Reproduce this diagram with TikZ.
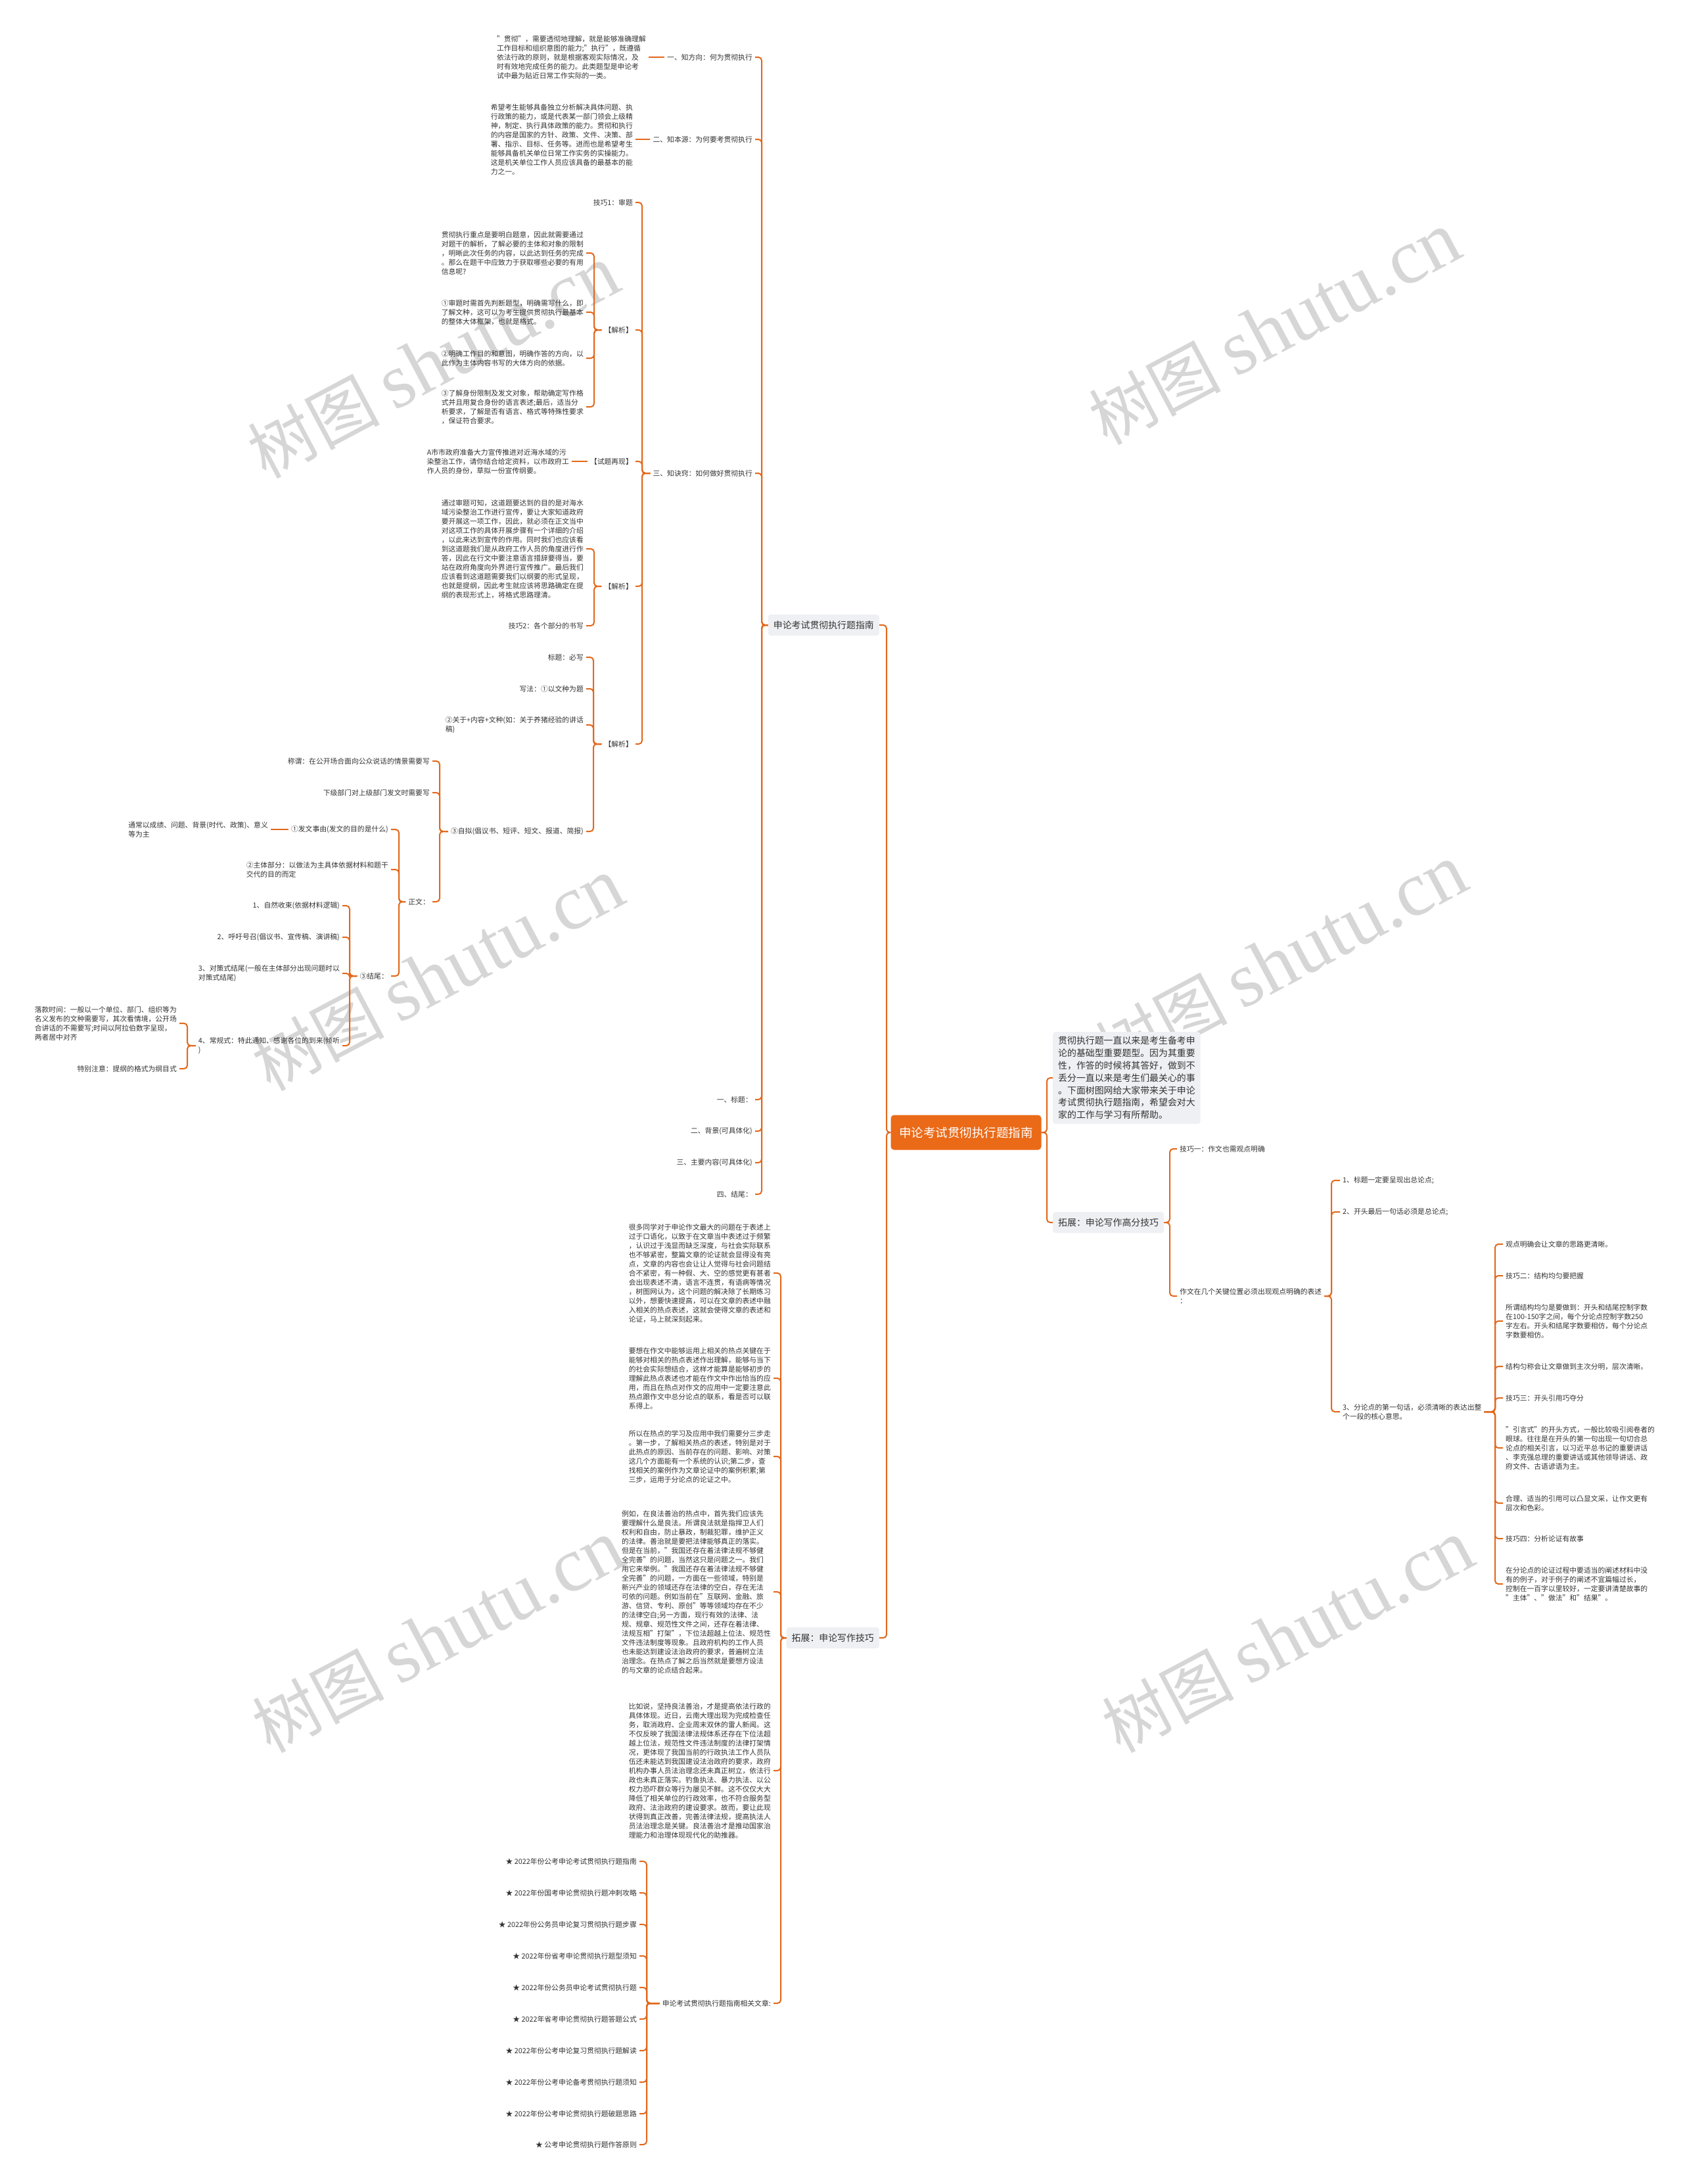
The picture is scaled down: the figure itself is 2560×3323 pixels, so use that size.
\documentclass[tikz,border=0pt]{standalone}
\usepackage{fontspec}
\setmainfont{Noto Sans CJK SC}
\newfontfamily\wmserif{Liberation Serif}
\definecolor{lc}{HTML}{E2681C}
\definecolor{oc}{HTML}{EA6A18}
\definecolor{tc}{HTML}{333333}
\definecolor{gb}{HTML}{EEF0F3}
\definecolor{wmc}{HTML}{D6D6D6}
\tikzset{
  conn/.style={draw=lc, line width=2pt, rounded corners=5pt},
  tx/.style={font=\fontsize{10.8}{14}\selectfont, text=tc, inner xsep=4pt, inner ysep=2pt, align=left},
  gbox/.style={fill=gb, rounded corners=4pt, text=tc, font=\fontsize{13.9}{18.8}\selectfont, inner xsep=8pt, inner ysep=7pt, minimum height=32pt, align=left},
  rootbox/.style={fill=oc, rounded corners=5pt, text=white, font=\fontsize{18.5}{22}\selectfont, minimum width=229pt, minimum height=53pt},
  wm/.style={text=wmc, rotate=28, inner sep=0pt},
}
\newcommand{\wmtext}{{\fontsize{100}{100}\selectfont 树图}\hspace{22pt}{\wmserif\fontsize{118}{118}\selectfont shutu.cn}}
\begin{document}
\begin{tikzpicture}[x=1pt,y=-1pt]
\useasboundingbox (0,0) rectangle (2560,3323);
\fill[white] (0,0) rectangle (2560,3323);
% watermarks
\node[wm] (w1) at (660,551) {\wmtext};
\node[wm] (w2) at (1940,500) {\wmtext};
\node[wm] (w3) at (667,1483) {\wmtext};
\node[wm] (w4) at (1950,1462) {\wmtext};
\node[wm] (w5) at (667,2490) {\wmtext};
\node[wm] (w6) at (1960,2490) {\wmtext};

% root
\node[rootbox] (root) at (1470,1723) {申论考试贯彻执行题指南};

% ---------- right side ----------
\coordinate (Rb) at (1593,1723);
\node[gbox, anchor=west] (C) at (1602,1640) {贯彻执行题一直以来是考生备考申\\论的基础型重要题型。因为其重要\\性，作答的时候将其答好，做到不\\丢分一直以来是考生们最关心的事\\。下面树图网给大家带来关于申论\\考试贯彻执行题指南，希望会对大\\家的工作与学习有所帮助。};
\node[gbox, anchor=west] (D) at (1602,1860) {拓展：申论写作高分技巧};
\foreach \c in {C,D} \draw[conn] (root.east) -- (Rb) |- (\c.west);

\coordinate (Db) at (1780,1860);
\node[tx, anchor=west] (d1) at (1791,1748) {技巧一：作文也需观点明确};
\node[tx, anchor=west] (d2) at (1791,1972) {作文在几个关键位置必须出现观点明确的表述\\：};
\foreach \c in {d1,d2} \draw[conn] (D.east) -- (Db) |- (\c.west);

\coordinate (D2b) at (2026,1972);
\node[tx, anchor=west] (d2a) at (2039,1796) {1、标题一定要呈现出总论点;};
\node[tx, anchor=west] (d2b) at (2039,1844) {2、开头最后一句话必须是总论点;};
\node[tx, anchor=west] (d2c) at (2039,2148) {3、分论点的第一句话，必须清晰的表达出整\\个一段的核心意思。};
\foreach \c in {d2a,d2b,d2c} \draw[conn] (d2.east) -- (D2b) |- (\c.west);

\coordinate (D3b) at (2275,2148);
\node[tx, anchor=west] (r1) at (2287,1893) {观点明确会让文章的思路更清晰。};
\node[tx, anchor=west] (r2) at (2287,1941) {技巧二：结构均匀要把握};
\node[tx, anchor=west] (r3) at (2287,2010) {所谓结构均匀是要做到：开头和结尾控制字数\\在100-150字之间，每个分论点控制字数250\\字左右。开头和结尾字数要相仿，每个分论点\\字数要相仿。};
\node[tx, anchor=west] (r4) at (2287,2079) {结构匀称会让文章做到主次分明，层次清晰。};
\node[tx, anchor=west] (r5) at (2287,2127) {技巧三：开头引用巧夺分};
\node[tx, anchor=west] (r6) at (2287,2203) {"引言式"的开头方式，一般比较吸引阅卷者的\\眼球。往往是在开头的第一句出现一句切合总\\论点的相关引言，以习近平总书记的重要讲话\\、李克强总理的重要讲话或其他领导讲话、政\\府文件、古语谚语为主。};
\node[tx, anchor=west] (r7) at (2287,2287) {合理、适当的引用可以凸显文采，让作文更有\\层次和色彩。};
\node[tx, anchor=west] (r8) at (2287,2341) {技巧四：分析论证有故事};
\node[tx, anchor=west] (r9) at (2287,2410) {在分论点的论证过程中要适当的阐述材料中没\\有的例子，对于例子的阐述不宜篇幅过长，\\控制在一百字以里较好，一定要讲清楚故事的\\"主体"、"做法"和"结果"。};
\foreach \c in {r1,r2,r3,r4,r5,r6,r7,r8,r9} \draw[conn] (d2c.east) -- (D3b) |- (\c.west);

% ---------- left side ----------
\coordinate (Lb) at (1349,1723);
\node[gbox, anchor=east] (A) at (1338,951) {申论考试贯彻执行题指南};
\node[gbox, anchor=east] (B) at (1338,2492) {拓展：申论写作技巧};
\foreach \c in {A,B} \draw[conn] (root.west) -- (Lb) |- (\c.east);

\coordinate (Ab) at (1159,951);
\node[tx, anchor=east] (a1) at (1149,87) {一、知方向：何为贯彻执行};
\node[tx, anchor=east] (a2) at (1149,212) {二、知本源：为何要考贯彻执行};
\node[tx, anchor=east] (a3) at (1149,720) {三、知诀窍：如何做好贯彻执行};
\node[tx, anchor=east] (h1) at (1149,1673) {一、标题：};
\node[tx, anchor=east] (h2) at (1149,1721) {二、背景(可具体化)};
\node[tx, anchor=east] (h3) at (1149,1769) {三、主要内容(可具体化)};
\node[tx, anchor=east] (h4) at (1149,1817) {四、结尾：};
\foreach \c in {a1,a2,a3,h1,h2,h3,h4} \draw[conn] (A.west) -- (Ab) |- (\c.east);

\node[tx, anchor=east] (a1t) at (987,87) {"贯彻"，需要透彻地理解，就是能够准确理解\\工作目标和组织意图的能力;"执行"，既遵循\\依法行政的原则，就是根据客观实际情况，及\\时有效地完成任务的能力。此类题型是申论考\\试中最为贴近日常工作实际的一类。};
\draw[conn] (a1.west) -- (a1t.east);
\node[tx, anchor=east] (a2t) at (967,212) {希望考生能够具备独立分析解决具体问题、执\\行政策的能力，或是代表某一部门领会上级精\\神，制定、执行具体政策的能力。贯彻和执行\\的内容是国家的方针、政策、文件、决策、部\\署、指示、目标、任务等。进而也是希望考生\\能够具备机关单位日常工作实务的实操能力。\\这是机关单位工作人员应该具备的最基本的能\\力之一。};
\draw[conn] (a2.west) -- (a2t.east);

\coordinate (A3b) at (977,720);
\node[tx, anchor=east] (k1) at (967,308) {技巧1：审题};
\node[tx, anchor=east] (j1) at (967,502) {【解析】};
\node[tx, anchor=east] (sz) at (967,702) {【试题再现】};
\node[tx, anchor=east] (j2) at (967,892) {【解析】};
\node[tx, anchor=east] (j3) at (967,1132) {【解析】};
\foreach \c in {k1,j1,sz,j2,j3} \draw[conn] (a3.west) -- (A3b) |- (\c.east);

\coordinate (J1b) at (904,502);
\node[tx, anchor=east] (j1a) at (892,385) {贯彻执行重点是要明白题意，因此就需要通过\\对题干的解析，了解必要的主体和对象的限制\\，明晰此次任务的内容，以此达到任务的完成\\。那么在题干中应致力于获取哪些必要的有用\\信息呢?};
\node[tx, anchor=east] (j1b) at (892,475) {①审题时需首先判断题型，明确需写什么，即\\了解文种，这可以为考生提供贯彻执行最基本\\的整体大体框架，也就是格式。};
\node[tx, anchor=east] (j1c) at (892,545) {②明确工作目的和意图，明确作答的方向，以\\此作为主体内容书写的大体方向的依据。};
\node[tx, anchor=east] (j1d) at (892,619) {③了解身份限制及发文对象，帮助确定写作格\\式并且用复合身份的语言表述;最后，适当分\\析要求，了解是否有语言、格式等特殊性要求\\，保证符合要求。};
\foreach \c in {j1a,j1b,j1c,j1d} \draw[conn] (j1.west) -- (J1b) |- (\c.east);

\node[tx, anchor=east] (szt) at (870,702) {A市市政府准备大力宣传推进对近海水域的污\\染整治工作，请你结合给定资料，以市政府工\\作人员的身份，草拟一份宣传纲要。};
\draw[conn] (sz.west) -- (szt.east);

\coordinate (J2b) at (904,892);
\node[tx, anchor=east] (j2a) at (892,835) {通过审题可知，这道题要达到的目的是对海水\\域污染整治工作进行宣传，要让大家知道政府\\要开展这一项工作，因此，就必须在正文当中\\对这项工作的具体开展步骤有一个详细的介绍\\，以此来达到宣传的作用。同时我们也应该看\\到这道题我们是从政府工作人员的角度进行作\\答，因此在行文中要注意语言措辞要得当，要\\站在政府角度向外界进行宣传推广。最后我们\\应该看到这道题需要我们以纲要的形式呈现，\\也就是提纲，因此考生就应该将思路确定在提\\纲的表现形式上，将格式思路理清。};
\node[tx, anchor=east] (k2) at (892,952) {技巧2：各个部分的书写};
\foreach \c in {j2a,k2} \draw[conn] (j2.west) -- (J2b) |- (\c.east);

\coordinate (J3b) at (903,1132);
\node[tx, anchor=east] (bt) at (892,1000) {标题：必写};
\node[tx, anchor=east] (xf) at (892,1048) {写法：①以文种为题};
\node[tx, anchor=east] (gy) at (892,1103) {②关于+内容+文种(如：关于养猪经验的讲话\\稿)};
\node[tx, anchor=east] (zn) at (892,1265) {③自拟(倡议书、短评、短文、报道、简报)};
\foreach \c in {bt,xf,gy,zn} \draw[conn] (j3.west) -- (J3b) |- (\c.east);

\coordinate (ZNb) at (669,1265);
\node[tx, anchor=east] (cw) at (658,1158) {称谓：在公开场合面向公众说话的情景需要写};
\node[tx, anchor=east] (xj) at (658,1206) {下级部门对上级部门发文时需要写};
\node[tx, anchor=east] (zw) at (658,1372) {正文：};
\foreach \c in {cw,xj,zw} \draw[conn] (zn.west) -- (ZNb) |- (\c.east);

\coordinate (ZWb) at (607,1372);
\node[tx, anchor=east] (fw) at (595,1262) {①发文事由(发文的目的是什么)};
\node[tx, anchor=east] (zt) at (595,1323) {②主体部分：以做法为主具体依据材料和题干\\交代的目的而定};
\node[tx, anchor=east] (jw) at (595,1485) {③结尾：};
\foreach \c in {fw,zt,jw} \draw[conn] (zw.west) -- (ZWb) |- (\c.east);

\node[tx, anchor=east] (fwt) at (412,1262) {通常以成绩、问题、背景(时代、政策)、意义\\等为主};
\draw[conn] (fw.west) -- (fwt.east);

\coordinate (JWb) at (532,1485);
\node[tx, anchor=east] (e1) at (521,1378) {1、自然收束(依据材料逻辑)};
\node[tx, anchor=east] (e2) at (521,1426) {2、呼吁号召(倡议书、宣传稿、演讲稿)};
\node[tx, anchor=east] (e3) at (521,1481) {3、对策式结尾(一般在主体部分出现问题时以\\对策式结尾)};
\node[tx, anchor=east] (e4) at (521,1591) {4、常规式：特此通知、感谢各位的到来(倾听\\)};
\foreach \c in {e1,e2,e3,e4} \draw[conn] (jw.west) -- (JWb) |- (\c.east);

\coordinate (E4b) at (285,1591);
\node[tx, anchor=east] (lk) at (273,1557) {落款时间：一般以一个单位、部门、组织等为\\名义发布的文种需要写，其次看情境，公开场\\合讲话的不需要写;时间以阿拉伯数字呈现，\\两者居中对齐};
\node[tx, anchor=east] (tb) at (273,1626) {特别注意：提纲的格式为纲目式};
\foreach \c in {lk,tb} \draw[conn] (e4.west) -- (E4b) |- (\c.east);

% ---------- B branch ----------
\coordinate (Bb) at (1188,2492);
\node[tx, anchor=east] (b1) at (1177,1937) {很多同学对于申论作文最大的问题在于表述上\\过于口语化，以致于在文章当中表述过于频繁\\，认识过于浅显而缺乏深度，与社会实际联系\\也不够紧密，整篇文章的论证就会显得没有亮\\点，文章的内容也会让让人觉得与社会问题结\\合不紧密，有一种假、大、空的感觉更有甚者\\会出现表述不清，语言不连贯，有语病等情况\\，树图网认为，这个问题的解决除了长期练习\\以外，想要快速提高，可以在文章的表述中融\\入相关的热点表述，这就会使得文章的表述和\\论证，马上就深刻起来。};
\node[tx, anchor=east] (b2) at (1177,2097) {要想在作文中能够运用上相关的热点关键在于\\能够对相关的热点表述作出理解，能够与当下\\的社会实际想结合，这样才能算是能够初步的\\理解此热点表述也才能在作文中作出恰当的应\\用，而且在热点对作文的应用中一定要注意此\\热点跟作文中总分论点的联系，看是否可以联\\系得上。};
\node[tx, anchor=east] (b3) at (1177,2216) {所以在热点的学习及应用中我们需要分三步走\\。第一步，了解相关热点的表述，特别是对于\\此热点的原因、当前存在的问题、影响、对策\\这几个方面能有一个系统的认识;第二步，查\\找相关的案例作为文章论证中的案例积累;第\\三步，运用于分论点的论证之中。};
\node[tx, anchor=east] (b4) at (1177,2422) {例如，在良法善治的热点中，首先我们应该先\\要理解什么是良法。所谓良法就是指捍卫人们\\权利和自由，防止暴政，制裁犯罪，维护正义\\的法律。善治就是要把法律能够真正的落实。\\但是在当前，"我国还存在着法律法规不够健\\全完善"的问题，当然这只是问题之一。我们\\用它来举例。"我国还存在着法律法规不够健\\全完善"的问题，一方面在一些领域，特别是\\新兴产业的领域还存在法律的空白，存在无法\\可依的问题。例如当前在"互联网、金融、旅\\游、信贷、专利、原创"等等领域均存在不少\\的法律空白;另一方面，现行有效的法律、法\\规、规章、规范性文件之间，还存在着法律、\\法规互相"打架"，下位法超越上位法、规范性\\文件违法制度等现象。且政府机构的工作人员\\也未能达到建设法治政府的要求，普遍树立法\\治理念。在热点了解之后当然就是要想方设法\\的与文章的论点结合起来。};
\node[tx, anchor=east] (b5) at (1177,2694) {比如说，坚持良法善治，才是提高依法行政的\\具体体现。近日，云南大理出现为完成检查任\\务，取消政府、企业周末双休的雷人新闻。这\\不仅反映了我国法律法规体系还存在下位法超\\越上位法，规范性文件违法制度的法律打架情\\况，更体现了我国当前的行政执法工作人员队\\伍还未能达到我国建设法治政府的要求，政府\\机构办事人员法治理念还未真正树立，依法行\\政也未真正落实。钓鱼执法、暴力执法、以公\\权力恐吓群众等行为屡见不鲜。这不仅仅大大\\降低了相关单位的行政效率，也不符合服务型\\政府、法治政府的建设要求。故而，要让此现\\状得到真正改善，完善法律法规，提高执法人\\员法治理念是关键。良法善治才是推动国家治\\理能力和治理体现现代化的助推器。};
\node[tx, anchor=east] (b6) at (1177,3048) {申论考试贯彻执行题指南相关文章:};
\foreach \c in {b1,b2,b3,b4,b5,b6} \draw[conn] (B.west) -- (Bb) |- (\c.east);

\coordinate (B6b) at (984,3048);
\node[tx, anchor=east] (s1) at (973,2832) {★ 2022年份公考申论考试贯彻执行题指南};
\node[tx, anchor=east] (s2) at (973,2880) {★ 2022年份国考申论贯彻执行题冲刺攻略};
\node[tx, anchor=east] (s3) at (973,2928) {★ 2022年份公务员申论复习贯彻执行题步骤};
\node[tx, anchor=east] (s4) at (973,2976) {★ 2022年份省考申论贯彻执行题型须知};
\node[tx, anchor=east] (s5) at (973,3024) {★ 2022年份公务员申论考试贯彻执行题};
\node[tx, anchor=east] (s6) at (973,3072) {★ 2022年省考申论贯彻执行题答题公式};
\node[tx, anchor=east] (s7) at (973,3120) {★ 2022年份公考申论复习贯彻执行题解读};
\node[tx, anchor=east] (s8) at (973,3168) {★ 2022年份公考申论备考贯彻执行题须知};
\node[tx, anchor=east] (s9) at (973,3216) {★ 2022年份公考申论贯彻执行题破题思路};
\node[tx, anchor=east] (s10) at (973,3263) {★ 公考申论贯彻执行题作答原则};
\foreach \c in {s1,s2,s3,s4,s5,s6,s7,s8,s9,s10} \draw[conn] (b6.west) -- (B6b) |- (\c.east);
\end{tikzpicture}
\end{document}
